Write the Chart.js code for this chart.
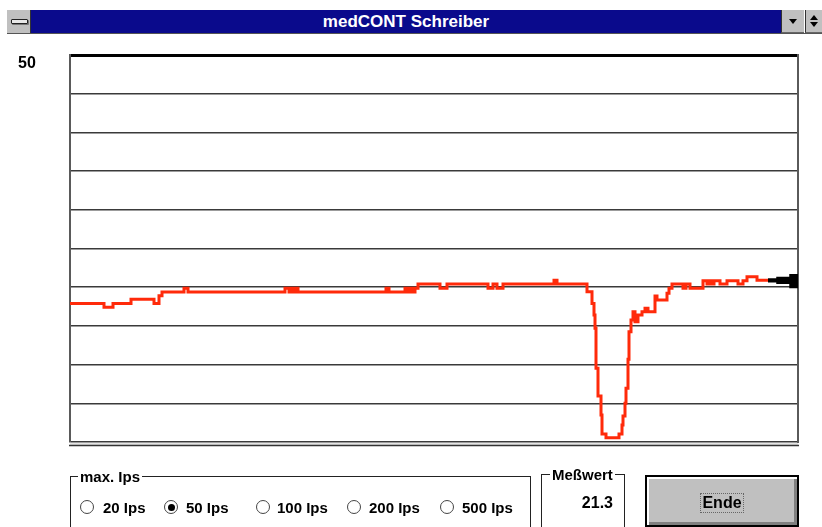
<!DOCTYPE html>
<html><head><meta charset="utf-8">
<script src="https://cdn.jsdelivr.net/npm/chart.js@4.4.1/dist/chart.umd.min.js"></script>
<style>
html,body{margin:0;padding:0;background:#fff;width:822px;height:527px;overflow:hidden;font-family:"Liberation Sans",Arial,sans-serif;}
#wrap{position:relative;width:822px;height:527px;}
.abs{position:absolute;}
canvas{position:absolute;left:0;top:0;}
#ctrl{left:7px;top:10px;width:24px;height:23px;background:#c0c0c0;border-right:1px solid #333;box-sizing:border-box;}
#ctrl .ic{position:absolute;left:4px;top:9px;width:15px;height:3px;border:1px solid #222;border-radius:1px;background:#e8e8e8;box-shadow:1px 1px 0 #777;}
#title{left:31px;top:10px;width:750px;height:23px;background:#0a0a8c;color:#fff;font-weight:bold;font-size:17px;line-height:23px;text-align:center;}
#tline{left:7px;top:33px;width:815px;height:1px;background:#555;}
.tbtn{top:10px;height:23px;background:#c0c0c0;box-sizing:border-box;border-left:1px solid #333;border-bottom:1px solid #666;}
#b1{left:781px;width:23px;}
#b2{left:805px;width:17px;}
.tri{position:absolute;width:0;height:0;border-left:4px solid transparent;border-right:4px solid transparent;}
#lbl50{left:18px;top:55px;font-weight:bold;font-size:16px;line-height:16px;}
.gb{box-sizing:border-box;border:1px solid #222;}
#g1{left:70px;top:476px;width:461px;height:60px;}
#g2{left:541px;top:474px;width:84px;height:62px;}
.gl{position:absolute;background:#fff;font-weight:bold;font-size:15px;line-height:16px;padding:0 2px;}
.rad{position:absolute;top:500px;width:14px;height:14px;border:1px solid #444;border-radius:50%;box-sizing:border-box;background:#fff;}
.rad.on::after{content:"";position:absolute;left:2.5px;top:2.5px;width:7px;height:7px;border-radius:50%;background:#000;}
.rt{position:absolute;top:499px;font-weight:bold;font-size:15px;line-height:17px;}
#val{left:560px;top:494px;width:53px;text-align:right;font-weight:bold;font-size:16px;line-height:18px;}
#ende{left:645px;top:475px;width:154px;height:52px;background:#c0c0c0;border:2px solid #000;box-sizing:border-box;box-shadow:inset 2px 2px 0 #fff,inset -3px -3px 0 #808080;}
#ende span{position:absolute;left:53px;top:16px;width:44px;height:20px;border:1px dotted #666;box-sizing:border-box;text-align:center;font-weight:bold;font-size:16px;line-height:18px;}
</style></head>
<body><div id="wrap">
<canvas id="c" width="822" height="527"></canvas>
<div class="abs" id="ctrl"><div class="ic"></div></div>
<div class="abs" id="title">medCONT Schreiber</div>
<div class="abs" id="tline"></div>
<div class="abs tbtn" id="b1"><div class="tri" style="left:7px;top:9px;border-top:5px solid #000;"></div></div>
<div class="abs tbtn" id="b2"><div class="tri" style="left:4px;top:5px;border-bottom:5px solid #000;"></div><div class="tri" style="left:4px;top:12px;border-top:5px solid #000;"></div></div>
<div class="abs" id="lbl50">50</div>

<div class="abs gb" id="g1"></div>
<div class="gl" style="left:78px;top:469px;">max. Ips</div>
<div class="rad" style="left:80px;"></div><div class="rt" style="left:103px;">20 Ips</div>
<div class="rad on" style="left:164px;"></div><div class="rt" style="left:186px;">50 Ips</div>
<div class="rad" style="left:256px;"></div><div class="rt" style="left:277px;">100 Ips</div>
<div class="rad" style="left:347px;"></div><div class="rt" style="left:369px;">200 Ips</div>
<div class="rad" style="left:440px;"></div><div class="rt" style="left:462px;">500 Ips</div>

<div class="abs gb" id="g2"></div>
<div class="gl" style="left:550px;top:467px;">Meßwert</div>
<div class="abs" id="val">21.3</div>

<div class="abs" id="ende"><span>Ende</span></div>
</div>
<script>
// Sample index at which the reading changes, and the new reading (value held until next change)
const sampleIdx = [0,34,43,61,84,89,92,114,118,215,219,221,224,226,228,316,319,335,338,341,343,345,348,370,377,418,423,427,433,484,487,517,522,524,525,526,528,531,532,536,549,552,553,555,556,558,559,561,563,565,568,572,575,578,585,587,597,599,602,613,616,620,633,637,639,642,644,650,657,668,673,677,687,698];
const readings = [17.9,17.4,17.9,18.44,17.9,18.9,19.38,19.86,19.38,19.86,19.38,19.86,19.38,19.86,19.38,19.86,19.38,19.86,19.38,19.86,19.38,19.86,20.41,19.86,20.41,19.86,20.41,19.86,20.41,20.9,20.41,19.42,17.9,16.41,14.69,9.52,5.94,3.49,1.03,0.56,1.03,2.2,3.36,5.0,6.94,10.68,14.25,15.76,16.84,15.54,16.41,16.84,17.27,16.84,18.86,18.35,19.21,19.86,20.41,19.86,20.41,19.86,20.84,20.41,20.84,20.41,20.84,20.41,20.84,20.41,20.84,21.36,20.9,20.9];
// Current-value marker (black wedge at the pen position)
const markerIdx = [698,707,720,728];
const markerUpper = [21.05,21.25,21.6,21.6];
const markerLower = [20.7,20.5,19.95,19.95];
const yMin = 0, yMax = 50, yStep = 5;
const xMin = 0, xMax = 728;

const toPts = (xs, ys) => xs.map((x,i)=>({x, y: ys[i]}));

const frame = {
  id:'frame',
  afterDraw(chart){
    const {ctx, chartArea:a} = chart;
    ctx.save();
    ctx.fillStyle='#e4e4e4';
    ctx.fillRect(a.left, a.bottom+1, a.right-a.left, 2);
    ctx.strokeStyle='#333'; ctx.lineWidth=1.5;
    ctx.beginPath(); ctx.moveTo(a.left-1, a.bottom+3.5); ctx.lineTo(a.right+1, a.bottom+3.5); ctx.stroke();
    ctx.restore();
  }
};

new Chart(document.getElementById('c'), {
  type:'line',
  data:{datasets:[
    {data: toPts(sampleIdx, readings), borderColor:'#ff2a0a', borderWidth:3, stepped:true, pointRadius:0, fill:false, order:1},
    {data: toPts(markerIdx, markerUpper), borderColor:'#000', borderWidth:1.5, stepped:true, pointRadius:0, fill:false, order:2},
    {data: toPts(markerIdx, markerLower), borderColor:'#000', borderWidth:1.5, stepped:true, pointRadius:0, fill:'-1', backgroundColor:'#000', order:2}
  ]},
  options:{
    responsive:false, animation:false, events:[],
    layout:{padding:{left:70, top:55, right:24, bottom:85}, autoPadding:false},
    plugins:{legend:{display:false}, tooltip:{enabled:false}},
    scales:{
      x:{type:'linear', min:xMin, max:xMax, display:true,
         ticks:{display:false}, grid:{display:false, drawTicks:false}, border:{display:false}},
      y:{type:'linear', min:yMin, max:yMax, display:true,
         ticks:{display:false, stepSize:yStep},
         grid:{drawTicks:false, tickLength:0,
           color:(c)=> c.tick && c.tick.value===yMax ? '#000' : '#3a3a3a',
           lineWidth:(c)=> c.tick && c.tick.value===yMax ? 3 : 1.5},
         border:{display:true, color:'#5a5a5a', width:2}},
      y2:{type:'linear', position:'right', min:yMin, max:yMax, display:true,
         ticks:{display:false}, grid:{display:false, drawTicks:false},
         border:{display:true, color:'#5a5a5a', width:2}}
    }
  },
  plugins:[frame]
});
</script>
</body></html>
